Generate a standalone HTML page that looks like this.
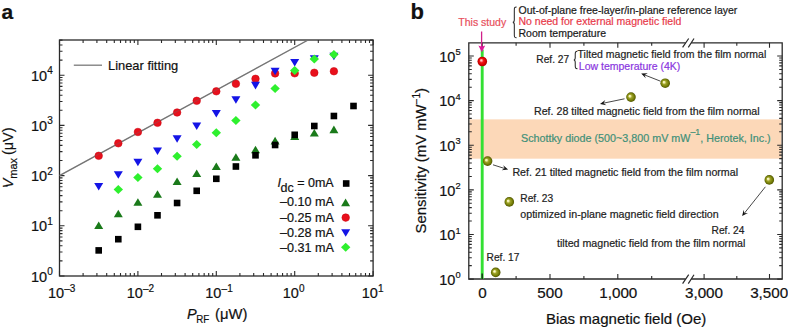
<!DOCTYPE html>
<html><head><meta charset="utf-8"><style>
html,body{margin:0;padding:0;background:#fff;}
svg{display:block;}
text{font-family:'Liberation Sans', sans-serif;}
</style></head><body>
<svg width="788" height="328" viewBox="0 0 788 328" fill="#111">
<defs>
<radialGradient id="gOl" cx="0.5" cy="0.5" r="0.5" fx="0.34" fy="0.37">
<stop offset="0" stop-color="#fffff0"/><stop offset="0.2" stop-color="#eeeaa0"/><stop offset="0.4" stop-color="#9ea42a"/><stop offset="0.72" stop-color="#7a820a"/><stop offset="1" stop-color="#505600"/></radialGradient>
<radialGradient id="gRd" cx="0.5" cy="0.5" r="0.5" fx="0.37" fy="0.35">
<stop offset="0" stop-color="#fff6f6"/><stop offset="0.22" stop-color="#ff8a8a"/><stop offset="0.42" stop-color="#f01818"/><stop offset="0.75" stop-color="#d80000"/><stop offset="1" stop-color="#a80000"/></radialGradient>
</defs>
<rect x="59.5" y="40.0" width="313.60" height="236.00" fill="none" stroke="#2a2a2a" stroke-width="1.3"/>
<path d="M59.50,276.0v-5.0M59.50,40.0v5.0M83.10,276.0v-3.0M83.10,40.0v3.0M96.91,276.0v-3.0M96.91,40.0v3.0M106.70,276.0v-3.0M106.70,40.0v3.0M114.30,276.0v-3.0M114.30,40.0v3.0M120.51,276.0v-3.0M120.51,40.0v3.0M125.76,276.0v-3.0M125.76,40.0v3.0M130.30,276.0v-3.0M130.30,40.0v3.0M134.31,276.0v-3.0M134.31,40.0v3.0M137.90,276.0v-5.0M137.90,40.0v5.0M161.50,276.0v-3.0M161.50,40.0v3.0M175.31,276.0v-3.0M175.31,40.0v3.0M185.10,276.0v-3.0M185.10,40.0v3.0M192.70,276.0v-3.0M192.70,40.0v3.0M198.91,276.0v-3.0M198.91,40.0v3.0M204.16,276.0v-3.0M204.16,40.0v3.0M208.70,276.0v-3.0M208.70,40.0v3.0M212.71,276.0v-3.0M212.71,40.0v3.0M216.30,276.0v-5.0M216.30,40.0v5.0M239.90,276.0v-3.0M239.90,40.0v3.0M253.71,276.0v-3.0M253.71,40.0v3.0M263.50,276.0v-3.0M263.50,40.0v3.0M271.10,276.0v-3.0M271.10,40.0v3.0M277.31,276.0v-3.0M277.31,40.0v3.0M282.56,276.0v-3.0M282.56,40.0v3.0M287.10,276.0v-3.0M287.10,40.0v3.0M291.11,276.0v-3.0M291.11,40.0v3.0M294.70,276.0v-5.0M294.70,40.0v5.0M318.30,276.0v-3.0M318.30,40.0v3.0M332.11,276.0v-3.0M332.11,40.0v3.0M341.90,276.0v-3.0M341.90,40.0v3.0M349.50,276.0v-3.0M349.50,40.0v3.0M355.71,276.0v-3.0M355.71,40.0v3.0M360.96,276.0v-3.0M360.96,40.0v3.0M365.50,276.0v-3.0M365.50,40.0v3.0M369.51,276.0v-3.0M369.51,40.0v3.0M373.10,276.0v-5.0M373.10,40.0v5.0M59.5,276.00h5.0M373.1,276.00h-5.0M59.5,260.89h3.0M373.1,260.89h-3.0M59.5,252.05h3.0M373.1,252.05h-3.0M59.5,245.78h3.0M373.1,245.78h-3.0M59.5,240.91h3.0M373.1,240.91h-3.0M59.5,236.94h3.0M373.1,236.94h-3.0M59.5,233.58h3.0M373.1,233.58h-3.0M59.5,230.66h3.0M373.1,230.66h-3.0M59.5,228.10h3.0M373.1,228.10h-3.0M59.5,225.80h5.0M373.1,225.80h-5.0M59.5,210.69h3.0M373.1,210.69h-3.0M59.5,201.85h3.0M373.1,201.85h-3.0M59.5,195.58h3.0M373.1,195.58h-3.0M59.5,190.71h3.0M373.1,190.71h-3.0M59.5,186.74h3.0M373.1,186.74h-3.0M59.5,183.38h3.0M373.1,183.38h-3.0M59.5,180.46h3.0M373.1,180.46h-3.0M59.5,177.90h3.0M373.1,177.90h-3.0M59.5,175.60h5.0M373.1,175.60h-5.0M59.5,160.49h3.0M373.1,160.49h-3.0M59.5,151.65h3.0M373.1,151.65h-3.0M59.5,145.38h3.0M373.1,145.38h-3.0M59.5,140.51h3.0M373.1,140.51h-3.0M59.5,136.54h3.0M373.1,136.54h-3.0M59.5,133.18h3.0M373.1,133.18h-3.0M59.5,130.26h3.0M373.1,130.26h-3.0M59.5,127.70h3.0M373.1,127.70h-3.0M59.5,125.40h5.0M373.1,125.40h-5.0M59.5,110.29h3.0M373.1,110.29h-3.0M59.5,101.45h3.0M373.1,101.45h-3.0M59.5,95.18h3.0M373.1,95.18h-3.0M59.5,90.31h3.0M373.1,90.31h-3.0M59.5,86.34h3.0M373.1,86.34h-3.0M59.5,82.98h3.0M373.1,82.98h-3.0M59.5,80.06h3.0M373.1,80.06h-3.0M59.5,77.50h3.0M373.1,77.50h-3.0M59.5,75.20h5.0M373.1,75.20h-5.0M59.5,60.09h3.0M373.1,60.09h-3.0M59.5,51.25h3.0M373.1,51.25h-3.0M59.5,44.98h3.0M373.1,44.98h-3.0M59.5,40.11h3.0M373.1,40.11h-3.0" stroke="#2a2a2a" stroke-width="1.1" fill="none"/>
<text x="64.10" y="297.9" font-size="14.5" text-anchor="end" stroke="#111" stroke-width="0.2">10</text>
<text x="64.30" y="291.8" font-size="10" stroke="#111" stroke-width="0.2">–3</text>
<text x="142.80" y="297.9" font-size="14.5" text-anchor="end" stroke="#111" stroke-width="0.2">10</text>
<text x="143.00" y="291.8" font-size="10" stroke="#111" stroke-width="0.2">–2</text>
<text x="221.40" y="297.9" font-size="14.5" text-anchor="end" stroke="#111" stroke-width="0.2">10</text>
<text x="221.60" y="291.8" font-size="10" stroke="#111" stroke-width="0.2">–1</text>
<text x="298.80" y="297.9" font-size="14.5" text-anchor="end" stroke="#111" stroke-width="0.2">10</text>
<text x="299.00" y="291.8" font-size="10" stroke="#111" stroke-width="0.2">0</text>
<text x="377.80" y="297.9" font-size="14.5" text-anchor="end" stroke="#111" stroke-width="0.2">10</text>
<text x="378.00" y="291.8" font-size="10" stroke="#111" stroke-width="0.2">1</text>
<text x="47.2" y="281.50" font-size="14.5" text-anchor="end" stroke="#111" stroke-width="0.2">10</text>
<text x="47.3" y="275.00" font-size="10" stroke="#111" stroke-width="0.2">0</text>
<text x="47.2" y="231.30" font-size="14.5" text-anchor="end" stroke="#111" stroke-width="0.2">10</text>
<text x="47.3" y="224.80" font-size="10" stroke="#111" stroke-width="0.2">1</text>
<text x="47.2" y="181.10" font-size="14.5" text-anchor="end" stroke="#111" stroke-width="0.2">10</text>
<text x="47.3" y="174.60" font-size="10" stroke="#111" stroke-width="0.2">2</text>
<text x="47.2" y="130.90" font-size="14.5" text-anchor="end" stroke="#111" stroke-width="0.2">10</text>
<text x="47.3" y="124.40" font-size="10" stroke="#111" stroke-width="0.2">3</text>
<text x="47.2" y="80.70" font-size="14.5" text-anchor="end" stroke="#111" stroke-width="0.2">10</text>
<text x="47.3" y="74.20" font-size="10" stroke="#111" stroke-width="0.2">4</text>
<line x1="59.5" y1="175.60" x2="308.1" y2="40.0" stroke="#7a7a7a" stroke-width="1.3"/>
<path d="M98.70,221.40L103.20,229.00L94.20,229.00Z" fill="#1a7a1a"/>
<path d="M118.30,209.70L122.80,217.30L113.80,217.30Z" fill="#1a7a1a"/>
<path d="M137.90,198.20L142.40,205.80L133.40,205.80Z" fill="#1a7a1a"/>
<path d="M157.50,190.20L162.00,197.80L153.00,197.80Z" fill="#1a7a1a"/>
<path d="M177.10,177.50L181.60,185.10L172.60,185.10Z" fill="#1a7a1a"/>
<path d="M196.70,169.50L201.20,177.10L192.20,177.10Z" fill="#1a7a1a"/>
<path d="M216.30,162.50L220.80,170.10L211.80,170.10Z" fill="#1a7a1a"/>
<path d="M235.90,153.20L240.40,160.80L231.40,160.80Z" fill="#1a7a1a"/>
<path d="M255.50,145.70L260.00,153.30L251.00,153.30Z" fill="#1a7a1a"/>
<path d="M275.10,136.80L279.60,144.40L270.60,144.40Z" fill="#1a7a1a"/>
<path d="M294.70,132.50L299.20,140.10L290.20,140.10Z" fill="#1a7a1a"/>
<path d="M314.30,129.00L318.80,136.60L309.80,136.60Z" fill="#1a7a1a"/>
<path d="M333.90,125.60L338.40,133.20L329.40,133.20Z" fill="#1a7a1a"/>
<rect x="95.40" y="247.10" width="6.6" height="6.6" fill="#000"/>
<rect x="115.00" y="235.90" width="6.6" height="6.6" fill="#000"/>
<rect x="134.60" y="223.50" width="6.6" height="6.6" fill="#000"/>
<rect x="154.20" y="212.00" width="6.6" height="6.6" fill="#000"/>
<rect x="173.80" y="199.70" width="6.6" height="6.6" fill="#000"/>
<rect x="193.40" y="187.50" width="6.6" height="6.6" fill="#000"/>
<rect x="213.00" y="175.50" width="6.6" height="6.6" fill="#000"/>
<rect x="232.60" y="163.20" width="6.6" height="6.6" fill="#000"/>
<rect x="252.20" y="152.00" width="6.6" height="6.6" fill="#000"/>
<rect x="271.80" y="141.70" width="6.6" height="6.6" fill="#000"/>
<rect x="291.40" y="131.50" width="6.6" height="6.6" fill="#000"/>
<rect x="311.00" y="122.70" width="6.6" height="6.6" fill="#000"/>
<rect x="330.60" y="112.70" width="6.6" height="6.6" fill="#000"/>
<rect x="350.20" y="102.70" width="6.6" height="6.6" fill="#000"/>
<circle cx="98.70" cy="155.80" r="3.8" fill="#e8101c" stroke="#c8000c" stroke-width="0.5"/>
<circle cx="118.30" cy="143.30" r="3.8" fill="#e8101c" stroke="#c8000c" stroke-width="0.5"/>
<circle cx="137.90" cy="132.00" r="3.8" fill="#e8101c" stroke="#c8000c" stroke-width="0.5"/>
<circle cx="157.50" cy="122.80" r="3.8" fill="#e8101c" stroke="#c8000c" stroke-width="0.5"/>
<circle cx="177.10" cy="112.50" r="3.8" fill="#e8101c" stroke="#c8000c" stroke-width="0.5"/>
<circle cx="196.70" cy="100.80" r="3.8" fill="#e8101c" stroke="#c8000c" stroke-width="0.5"/>
<circle cx="216.30" cy="91.30" r="3.8" fill="#e8101c" stroke="#c8000c" stroke-width="0.5"/>
<circle cx="235.90" cy="83.80" r="3.8" fill="#e8101c" stroke="#c8000c" stroke-width="0.5"/>
<circle cx="255.50" cy="78.80" r="3.8" fill="#e8101c" stroke="#c8000c" stroke-width="0.5"/>
<circle cx="275.10" cy="73.40" r="3.8" fill="#e8101c" stroke="#c8000c" stroke-width="0.5"/>
<circle cx="294.70" cy="73.30" r="3.8" fill="#e8101c" stroke="#c8000c" stroke-width="0.5"/>
<circle cx="314.30" cy="72.75" r="3.8" fill="#e8101c" stroke="#c8000c" stroke-width="0.5"/>
<circle cx="333.90" cy="71.25" r="3.8" fill="#e8101c" stroke="#c8000c" stroke-width="0.5"/>
<line x1="59.5" y1="175.60" x2="308.1" y2="40.0" stroke="#6a6a6a" stroke-width="1.1" opacity="0.35"/>
<path d="M98.70,190.50L103.20,182.90L94.20,182.90Z" fill="#1414e6"/>
<path d="M118.30,178.80L122.80,171.20L113.80,171.20Z" fill="#1414e6"/>
<path d="M137.90,166.30L142.40,158.70L133.40,158.70Z" fill="#1414e6"/>
<path d="M157.50,155.10L162.00,147.50L153.00,147.50Z" fill="#1414e6"/>
<path d="M177.10,142.80L181.60,135.20L172.60,135.20Z" fill="#1414e6"/>
<path d="M196.70,130.10L201.20,122.50L192.20,122.50Z" fill="#1414e6"/>
<path d="M216.30,117.60L220.80,110.00L211.80,110.00Z" fill="#1414e6"/>
<path d="M235.90,103.80L240.40,96.20L231.40,96.20Z" fill="#1414e6"/>
<path d="M255.50,89.40L260.00,81.80L251.00,81.80Z" fill="#1414e6"/>
<path d="M275.10,75.30L279.60,67.70L270.60,67.70Z" fill="#1414e6"/>
<path d="M294.70,66.60L299.20,59.00L290.20,59.00Z" fill="#1414e6"/>
<path d="M314.30,62.80L318.80,55.20L309.80,55.20Z" fill="#1414e6"/>
<path d="M333.90,60.30L338.40,52.70L329.40,52.70Z" fill="#1414e6"/>
<path d="M118.30,185.00L123.00,189.50L118.30,194.00L113.60,189.50Z" fill="#2ef02e"/>
<path d="M137.90,173.00L142.60,177.50L137.90,182.00L133.20,177.50Z" fill="#2ef02e"/>
<path d="M157.50,164.30L162.20,168.80L157.50,173.30L152.80,168.80Z" fill="#2ef02e"/>
<path d="M177.10,151.80L181.80,156.30L177.10,160.80L172.40,156.30Z" fill="#2ef02e"/>
<path d="M196.70,140.00L201.40,144.50L196.70,149.00L192.00,144.50Z" fill="#2ef02e"/>
<path d="M216.30,128.30L221.00,132.80L216.30,137.30L211.60,132.80Z" fill="#2ef02e"/>
<path d="M235.90,116.00L240.60,120.50L235.90,125.00L231.20,120.50Z" fill="#2ef02e"/>
<path d="M255.50,100.50L260.20,105.00L255.50,109.50L250.80,105.00Z" fill="#2ef02e"/>
<path d="M275.10,84.10L279.80,88.60L275.10,93.10L270.40,88.60Z" fill="#2ef02e"/>
<path d="M294.70,66.10L299.40,70.60L294.70,75.10L290.00,70.60Z" fill="#2ef02e"/>
<path d="M314.30,54.50L319.00,59.00L314.30,63.50L309.60,59.00Z" fill="#2ef02e"/>
<path d="M333.90,49.90L338.60,54.40L333.90,58.90L329.20,54.40Z" fill="#2ef02e"/>
<line x1="73.8" y1="65.2" x2="102" y2="65.2" stroke="#7a7a7a" stroke-width="1.3"/>
<text x="108" y="69.7" font-size="12.9" stroke="#111" stroke-width="0.2">Linear fitting</text>
<text x="277.5" y="187" font-size="12.5" font-style="italic" stroke="#111" stroke-width="0.2">I</text>
<text x="280.5" y="191.8" font-size="12.5" stroke="#111" stroke-width="0.2">dc</text>
<text x="297.2" y="187" font-size="12.5" stroke="#111" stroke-width="0.2">= 0mA</text>
<rect x="342.90" y="180.20" width="6.6" height="6.6" fill="#000"/>
<text x="334" y="205.7" font-size="12.6" text-anchor="end" stroke="#111" stroke-width="0.2">–0.10 mA</text>
<text x="334" y="221.8" font-size="12.6" text-anchor="end" stroke="#111" stroke-width="0.2">–0.25 mA</text>
<text x="334" y="237.3" font-size="12.6" text-anchor="end" stroke="#111" stroke-width="0.2">–0.28 mA</text>
<text x="334" y="251.6" font-size="12.6" text-anchor="end" stroke="#111" stroke-width="0.2">–0.31 mA</text>
<path d="M345.60,198.60L350.10,206.20L341.10,206.20Z" fill="#1a7a1a"/>
<circle cx="345.70" cy="217.60" r="3.8" fill="#e8101c" stroke="#c8000c" stroke-width="0.5"/>
<path d="M345.70,236.80L350.20,229.20L341.20,229.20Z" fill="#1414e6"/>
<path d="M345.70,242.80L350.40,247.30L345.70,251.80L341.00,247.30Z" fill="#2ef02e"/>
<text x="187" y="318.9" font-size="14.5" font-style="italic" stroke="#111" stroke-width="0.2">P</text>
<text x="196.3" y="322.8" font-size="11.2" textLength="13" lengthAdjust="spacingAndGlyphs" stroke="#111" stroke-width="0.2">RF</text>
<text x="215.0" y="318.9" font-size="14.8" stroke="#111" stroke-width="0.2">(μW)</text>
<g transform="translate(12.8,188.3) rotate(-90)"><text x="0" y="0" font-size="14.5" font-style="italic" stroke="#111" stroke-width="0.2">V</text><text x="9.6" y="4.6" font-size="11" stroke="#111" stroke-width="0.2">max</text><text x="33.2" y="0" font-size="14.5" stroke="#111" stroke-width="0.2">(μV)</text></g>
<text x="1.5" y="18.8" font-size="21" font-weight="bold" stroke="#111" stroke-width="0.2">a</text>
<text x="410.5" y="19.0" font-size="22" font-weight="bold" stroke="#111" stroke-width="0.2">b</text>
<rect x="469.5" y="119.37" width="312.00" height="39.30" fill="#fcd8b8"/>
<path d="M685.6,42.8H468.8V279.0H685.6M691.2,279.0H782.2V42.8H691.2" fill="none" stroke="#2a2a2a" stroke-width="1.3"/>
<path d="M682.6,47.4L688.7,38.5M688.3,47.4L694,38.5" stroke="#2a2a2a" stroke-width="1.2" fill="none"/>
<path d="M682.6,283.6L688.7,274.7M688.3,283.6L694,274.7" stroke="#2a2a2a" stroke-width="1.2" fill="none"/>
<path d="M482.20,279.0v-5.0M482.20,42.8v5.0M516.10,279.0v-3.0M516.10,42.8v3.0M550.00,279.0v-5.0M550.00,42.8v5.0M583.90,279.0v-3.0M583.90,42.8v3.0M617.80,279.0v-5.0M617.80,42.8v5.0M651.70,279.0v-3.0M651.70,42.8v3.0M704.10,279.0v-5.0M704.10,42.8v5.0M736.80,279.0v-3.0M736.80,42.8v3.0M769.50,279.0v-5.0M769.50,42.8v5.0M468.8,279.10h5.0M782.2,279.10h-5.0M468.8,265.67h3.0M782.2,265.67h-3.0M468.8,257.81h3.0M782.2,257.81h-3.0M468.8,252.24h3.0M782.2,252.24h-3.0M468.8,247.91h3.0M782.2,247.91h-3.0M468.8,244.38h3.0M782.2,244.38h-3.0M468.8,241.39h3.0M782.2,241.39h-3.0M468.8,238.80h3.0M782.2,238.80h-3.0M468.8,236.52h3.0M782.2,236.52h-3.0M468.8,234.48h5.0M782.2,234.48h-5.0M468.8,221.05h3.0M782.2,221.05h-3.0M468.8,213.19h3.0M782.2,213.19h-3.0M468.8,207.62h3.0M782.2,207.62h-3.0M468.8,203.29h3.0M782.2,203.29h-3.0M468.8,199.76h3.0M782.2,199.76h-3.0M468.8,196.77h3.0M782.2,196.77h-3.0M468.8,194.18h3.0M782.2,194.18h-3.0M468.8,191.90h3.0M782.2,191.90h-3.0M468.8,189.86h5.0M782.2,189.86h-5.0M468.8,176.43h3.0M782.2,176.43h-3.0M468.8,168.57h3.0M782.2,168.57h-3.0M468.8,163.00h3.0M782.2,163.00h-3.0M468.8,158.67h3.0M782.2,158.67h-3.0M468.8,155.14h3.0M782.2,155.14h-3.0M468.8,152.15h3.0M782.2,152.15h-3.0M468.8,149.56h3.0M782.2,149.56h-3.0M468.8,147.28h3.0M782.2,147.28h-3.0M468.8,145.24h5.0M782.2,145.24h-5.0M468.8,131.81h3.0M782.2,131.81h-3.0M468.8,123.95h3.0M782.2,123.95h-3.0M468.8,118.38h3.0M782.2,118.38h-3.0M468.8,114.05h3.0M782.2,114.05h-3.0M468.8,110.52h3.0M782.2,110.52h-3.0M468.8,107.53h3.0M782.2,107.53h-3.0M468.8,104.94h3.0M782.2,104.94h-3.0M468.8,102.66h3.0M782.2,102.66h-3.0M468.8,100.62h5.0M782.2,100.62h-5.0M468.8,87.19h3.0M782.2,87.19h-3.0M468.8,79.33h3.0M782.2,79.33h-3.0M468.8,73.76h3.0M782.2,73.76h-3.0M468.8,69.43h3.0M782.2,69.43h-3.0M468.8,65.90h3.0M782.2,65.90h-3.0M468.8,62.91h3.0M782.2,62.91h-3.0M468.8,60.32h3.0M782.2,60.32h-3.0M468.8,58.04h3.0M782.2,58.04h-3.0M468.8,56.00h5.0M782.2,56.00h-5.0" stroke="#2a2a2a" stroke-width="1.1" fill="none"/>
<text x="455.3" y="284.90" font-size="14.5" text-anchor="end" stroke="#111" stroke-width="0.2">10</text>
<text x="455.6" y="278.20" font-size="9.3" stroke="#111" stroke-width="0.2">0</text>
<text x="455.3" y="240.28" font-size="14.5" text-anchor="end" stroke="#111" stroke-width="0.2">10</text>
<text x="455.6" y="233.58" font-size="9.3" stroke="#111" stroke-width="0.2">1</text>
<text x="455.3" y="195.66" font-size="14.5" text-anchor="end" stroke="#111" stroke-width="0.2">10</text>
<text x="455.6" y="188.96" font-size="9.3" stroke="#111" stroke-width="0.2">2</text>
<text x="455.3" y="151.04" font-size="14.5" text-anchor="end" stroke="#111" stroke-width="0.2">10</text>
<text x="455.6" y="144.34" font-size="9.3" stroke="#111" stroke-width="0.2">3</text>
<text x="455.3" y="106.42" font-size="14.5" text-anchor="end" stroke="#111" stroke-width="0.2">10</text>
<text x="455.6" y="99.72" font-size="9.3" stroke="#111" stroke-width="0.2">4</text>
<text x="455.3" y="61.80" font-size="14.5" text-anchor="end" stroke="#111" stroke-width="0.2">10</text>
<text x="455.6" y="55.10" font-size="9.3" stroke="#111" stroke-width="0.2">5</text>
<text x="478.27" y="298.1" font-size="14.5" textLength="8.47" lengthAdjust="spacingAndGlyphs" stroke="#111" stroke-width="0.2">0</text>
<text x="537.30" y="298.1" font-size="14.5" textLength="25.40" lengthAdjust="spacingAndGlyphs" stroke="#111" stroke-width="0.2">500</text>
<text x="599.25" y="298.1" font-size="14.5" textLength="38.10" lengthAdjust="spacingAndGlyphs" stroke="#111" stroke-width="0.2">1,000</text>
<text x="684.95" y="298.1" font-size="14.5" textLength="38.10" lengthAdjust="spacingAndGlyphs" stroke="#111" stroke-width="0.2">3,000</text>
<text x="750.15" y="298.1" font-size="14.5" textLength="38.10" lengthAdjust="spacingAndGlyphs" stroke="#111" stroke-width="0.2">3,500</text>
<text x="545.9" y="323.5" font-size="14.6" textLength="160.47" lengthAdjust="spacingAndGlyphs" stroke="#111" stroke-width="0.2">Bias magnetic field (Oe)</text>
<g transform="translate(426.3,233.4) rotate(-90)"><text x="0" y="0" font-size="14.9" stroke="#111" stroke-width="0.2">Sensitivity (mV mW<tspan font-size="10" dy="-6">−1</tspan><tspan dy="6">)</tspan></text></g>
<line x1="482.2" y1="49.5" x2="482.2" y2="279.0" stroke="#33e033" stroke-width="2.9"/>
<path d="M482.2,279.0v-5.5" stroke="#173f17" stroke-width="1.6"/>
<line x1="481.6" y1="31.5" x2="481.6" y2="47" stroke="#d0208a" stroke-width="1.3"/>
<path d="M481.8,52.2L478.4,45.4L481.8,46.8L485.2,45.4Z" fill="#e0159a"/>
<text x="458.3" y="26.2" font-size="10.5" fill="#e8505c" stroke="#e8505c" stroke-width="0.2">This study</text>
<path d="M516.5999999999999,6.9 C514.13,6.9 514.3199999999999,8.4 514.3199999999999,10.9 L514.3199999999999,19.849999999999998 C514.3199999999999,21.749999999999996 513.18,22.349999999999998 512.8,22.349999999999998 C513.18,22.349999999999998 514.3199999999999,22.95 514.3199999999999,24.849999999999998 L514.3199999999999,33.8 C514.3199999999999,36.3 514.13,37.8 516.5999999999999,37.8" fill="none" stroke="#2a2a2a" stroke-width="1.05"/>
<text x="518.5" y="13.6" font-size="10.5" fill="#1a1a1a" stroke="#1a1a1a" stroke-width="0.2">Out-of-plane free-layer/in-plane reference layer</text>
<text x="518.5" y="25.3" font-size="10.5" fill="#e83a4a" stroke="#e83a4a" stroke-width="0.2">No need for external magnetic field</text>
<text x="518.5" y="36.6" font-size="10.5" fill="#1a1a1a" stroke="#1a1a1a" stroke-width="0.2">Room temperature</text>
<text x="536.3" y="63.4" font-size="10.2" fill="#222" stroke="#222" stroke-width="0.2">Ref. 27</text>
<path d="M577.4,51.3 C575.06,51.3 575.24,52.8 575.24,55.3 L575.24,57.449999999999996 C575.24,59.349999999999994 574.16,59.949999999999996 573.8,59.949999999999996 C574.16,59.949999999999996 575.24,60.55 575.24,62.449999999999996 L575.24,64.6 C575.24,67.1 575.06,68.6 577.4,68.6" fill="none" stroke="#2a2a2a" stroke-width="1.05"/>
<text x="577.6" y="58.2" font-size="10.5" fill="#222" stroke="#222" stroke-width="0.2">Tilted magnetic field from the film normal</text>
<text x="578.8" y="69.8" font-size="10.5" fill="#8a36e0" stroke="#8a36e0" stroke-width="0.2">Low temperature (4K)</text>
<text x="534" y="114.6" font-size="10.66" fill="#222" stroke="#222" stroke-width="0.2">Ref. 28 tilted magnetic field from the film normal</text>
<text x="521" y="141.7" font-size="10.75" fill="#3f9078" stroke="#3f9078" stroke-width="0.2">Schottky diode (500~3,800 mV mW<tspan font-size="8.8" dy="-7.2">–1</tspan><tspan dy="7.2">, Herotek, Inc.)</tspan></text>
<text x="512.4" y="175.6" font-size="10.66" fill="#222" stroke="#222" stroke-width="0.2">Ref. 21 tilted magnetic field from the film normal</text>
<text x="520.3" y="201.9" font-size="10.2" fill="#222" stroke="#222" stroke-width="0.2">Ref. 23</text>
<text x="520.3" y="217.8" font-size="10.66" fill="#222" stroke="#222" stroke-width="0.2">optimized in-plane magnetic field direction</text>
<text x="711.6" y="234.3" font-size="10.2" fill="#222" stroke="#222" stroke-width="0.2">Ref. 24</text>
<text x="557" y="247.2" font-size="10.66" fill="#222" stroke="#222" stroke-width="0.2">tilted magnetic field from the film normal</text>
<text x="486.6" y="261" font-size="10.2" fill="#222" stroke="#222" stroke-width="0.2">Ref. 17</text>
<line x1="660.5" y1="81.2" x2="644.55" y2="74.92" stroke="#333" stroke-width="0.9"/><path d="M641.20,73.60L647.77,73.29L644.55,74.92L645.79,78.31Z" fill="#111"/>
<line x1="624.5" y1="98.8" x2="603.52" y2="103.17" stroke="#333" stroke-width="0.9"/><path d="M600.00,103.90L605.32,100.03L603.52,103.17L606.42,105.32Z" fill="#111"/>
<line x1="493.0" y1="164.8" x2="504.67" y2="168.51" stroke="#333" stroke-width="0.9"/><path d="M508.10,169.60L501.56,170.36L504.67,168.51L503.20,165.21Z" fill="#111"/>
<line x1="765.4" y1="186.8" x2="744.34" y2="213.28" stroke="#333" stroke-width="0.9"/><path d="M742.10,216.10L743.72,209.72L744.34,213.28L747.95,213.08Z" fill="#111"/>
<circle cx="482.3" cy="61.5" r="4.8" fill="url(#gRd)"/>
<circle cx="665.2" cy="83.2" r="4.8" fill="url(#gOl)"/>
<circle cx="631.0" cy="97.1" r="4.8" fill="url(#gOl)"/>
<circle cx="487.6" cy="161.1" r="4.8" fill="url(#gOl)"/>
<circle cx="509.3" cy="201.9" r="4.8" fill="url(#gOl)"/>
<circle cx="769.3" cy="179.9" r="4.8" fill="url(#gOl)"/>
<circle cx="495.7" cy="272.4" r="4.8" fill="url(#gOl)"/>
</svg>
</body></html>
